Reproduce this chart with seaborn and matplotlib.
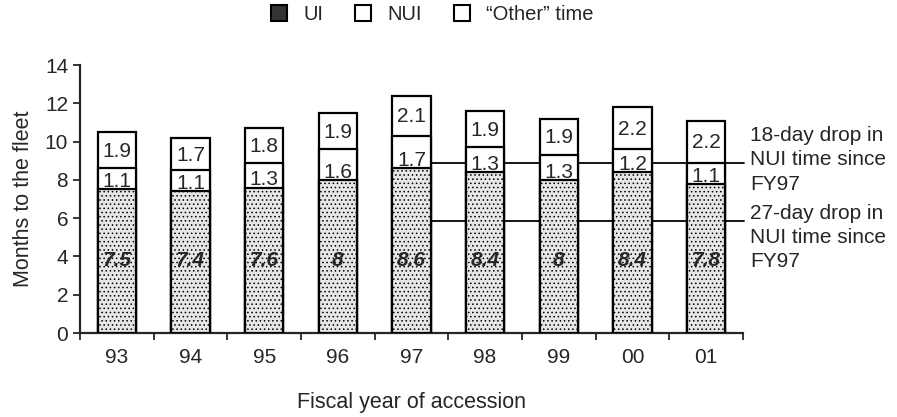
import seaborn as sns
import pandas as pd
import matplotlib.pyplot as plt
from matplotlib.patches import Patch

years = ['93', '94', '95', '96', '97', '98', '99', '00', '01']
ui = [7.5, 7.4, 7.6, 8, 8.6, 8.4, 8, 8.4, 7.8]
nui = [1.1, 1.1, 1.3, 1.6, 1.7, 1.3, 1.3, 1.2, 1.1]
other = [1.9, 1.7, 1.8, 1.9, 2.1, 1.9, 1.9, 2.2, 2.2]
ui_labels = ['7.5', '7.4', '7.6', '8', '8.6', '8.4', '8', '8.4', '7.8']

df = pd.DataFrame({'year': years, 'ui': ui, 'nui': nui, 'other': other})
df['ui_nui'] = df['ui'] + df['nui']
df['total'] = df['ui_nui'] + df['other']

sns.set_style('ticks')
plt.rcParams['font.family'] = ['Liberation Sans', 'DejaVu Sans']
plt.rcParams['hatch.color'] = '#8a8a8a'
plt.rcParams['hatch.linewidth'] = 0.6

fig = plt.figure(figsize=(8.97, 4.17), dpi=100)
ax = fig.add_axes([0.0892, 0.2014, 0.7390, 0.6426])

# stacked bars drawn back to front
sns.barplot(data=df, x='year', y='total', color='white', edgecolor='black',
            linewidth=1.6, width=0.52, saturation=1, ax=ax, zorder=3)
sns.barplot(data=df, x='year', y='ui_nui', color='white', edgecolor='black',
            linewidth=1.6, width=0.52, saturation=1, ax=ax, zorder=3)
sns.barplot(data=df, x='year', y='ui', color='#e6e6e6', edgecolor='black',
            linewidth=1.6, width=0.52, saturation=1, ax=ax, zorder=3,
            hatch='....')

for i in range(len(years)):
    ax.text(i, 3.8, ui_labels[i], ha='center', va='center', fontsize=15,
            fontweight='bold', fontstyle='italic', zorder=5)
    ax.text(i, ui[i] + 0.4, f'{nui[i]:.1f}', ha='center', va='center',
            fontsize=15, zorder=5)
    ax.text(i, df['ui_nui'][i] + other[i] / 2 - 0.05, f'{other[i]:.1f}',
            ha='center', va='center', fontsize=15, zorder=5)

# reference lines behind bars
ax.plot([4.26, 8.52], [8.88, 8.88], color='black', lw=1.3, zorder=1, clip_on=False)
ax.plot([4.26, 8.52], [5.86, 5.86], color='black', lw=1.3, zorder=1, clip_on=False)
ax.text(8.6, 9.05, '18-day drop in\nNUI time since\nFY97', ha='left', va='center',
        fontsize=15, linespacing=1.35)
ax.text(8.6, 6.75, '27-day drop in\nNUI time since\nFY97', ha='left', va='top',
        fontsize=15, linespacing=1.35)

ax.set_xlim(-0.5, 8.5)
ax.set_ylim(0, 14)
ax.set_yticks(range(0, 15, 2))
ax.set_xticks([x + 0.5 for x in range(-1, 9)], minor=True)
ax.tick_params(axis='x', which='major', length=0, pad=11, labelsize=15)
ax.tick_params(axis='x', which='minor', length=5, width=1.3, direction='out')
ax.tick_params(axis='y', length=5, width=1.3, labelsize=15)
ax.set_xlabel('Fiscal year of accession', fontsize=15.5, labelpad=18)
ax.set_ylabel('Months to the fleet', fontsize=15.5, labelpad=8)
sns.despine(ax=ax)
for s in ['left', 'bottom']:
    ax.spines[s].set_linewidth(1.6)

handles = [Patch(facecolor='#333333', edgecolor='black', lw=1.5),
           Patch(facecolor='white', edgecolor='black', lw=1.5),
           Patch(facecolor='white', edgecolor='black', lw=1.5)]
fig.legend(handles, ['UI', 'NUI', '\u201cOther\u201d time'], loc='center',
           bbox_to_anchor=(0.482, 0.965), ncol=3, frameon=False, fontsize=14.5,
           handlelength=0.8, handleheight=0.8, columnspacing=1.6, handletextpad=0.8)

plt.savefig('out.png', dpi=100)
